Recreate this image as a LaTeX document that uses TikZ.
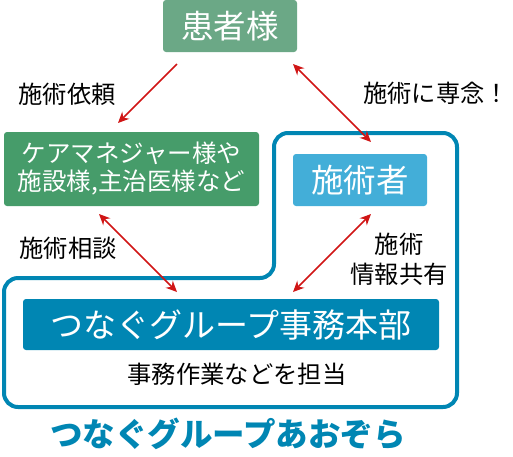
\documentclass[tikz,border=0pt]{standalone}
\usepackage{fontspec}
\setmainfont{Noto Sans CJK JP}
\usetikzlibrary{arrows.meta}
\definecolor{kgreen}{HTML}{6BA886}
\definecolor{cgreen}{HTML}{469C6A}
\definecolor{lblue}{HTML}{43AED8}
\definecolor{dblue}{HTML}{0086B3}
\definecolor{ared}{HTML}{D01515}
\begin{document}
\begin{tikzpicture}[x=1pt,y=-1pt,
  box/.style={rounded corners=3pt, inner sep=0pt, text=white, align=center},
  lbl/.style={inner sep=0pt, align=center, font=\fontsize{24.3}{30}\selectfont},
  arr/.style={draw=ared, line width=1.5pt, -{Stealth[length=11pt,width=10pt]}},
  darr/.style={draw=ared, line width=1.5pt, {Stealth[length=11pt,width=10pt]}-{Stealth[length=11pt,width=10pt]}},
  frame/.style={draw=dblue, line width=4pt, rounded corners=14pt}]
\useasboundingbox (0,0) rectangle (513,456);
% outline of the group
\draw[frame] (4,278) -- (274,278) -- (274,133) -- (457,133) -- (457,407) -- (4,407) -- cycle;
% boxes
\node[box, fill=kgreen, minimum width=134pt, minimum height=52pt, font=\fontsize{32.5}{32}\selectfont] (kanja) at (230,26) {患者様};
\node[box, fill=cgreen, minimum width=255pt, minimum height=74pt, font=\fontsize{24.5}{28}\selectfont] (care) at (131.5,169) {ケアマネジャー様や\\施設様,主治医様など};
\node[box, fill=lblue, minimum width=134pt, minimum height=52pt, font=\fontsize{32.5}{32}\selectfont] (sejutsu) at (360,180) {施術者};
\node[box, fill=dblue, minimum width=416pt, minimum height=51pt, font=\fontsize{33}{33}\selectfont] (hq) at (231,324.5) {つなぐグループ事務本部};
% labels
\node[lbl] (l1) at (67,94) {施術依頼};
\node[lbl] (l2) at (436,93) {施術に専念！};
\node[lbl] (l3) at (68,248) {施術相談};
\node[lbl] (l4) at (399,259) {施術\\情報共有};
\node[lbl] (l5) at (237,374) {事務作業などを担当};
\node[inner sep=0pt, text=dblue, font=\fontsize{32.5}{32}\selectfont\bfseries] (grp) at (228,434) {つなぐグループあおぞら};
% connector end points
\coordinate (a1s) at (177,64);
\coordinate (a1e) at (118,123);
\coordinate (a2s) at (99,214);
\coordinate (a2e) at (177,292);
\coordinate (a3s) at (371,214);
\coordinate (a3e) at (293,292);
\coordinate (a4s) at (293,64);
\coordinate (a4e) at (371,142);
\draw[arr] (a1s) -- (a1e);
\draw[darr] (a2s) -- (a2e);
\draw[darr] (a3s) -- (a3e);
\draw[darr] (a4s) -- (a4e);
\end{tikzpicture}
\end{document}
